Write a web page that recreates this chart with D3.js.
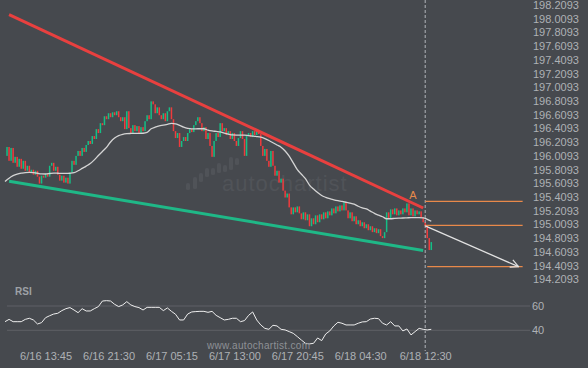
<!DOCTYPE html>
<html lang="en">
<head>
<meta charset="UTF-8">
<title>Falling wedge</title>
<script src="https://cdn.jsdelivr.net/npm/d3@7"></script>
<style>
  body { margin: 0; background: #46494e; }
  svg { display: block; }
  text { font-family: "Liberation Sans", Arial, sans-serif; }
</style>
</head>
<body>
<svg width="588" height="368"></svg>
<script>
// 15 minute candles, first one 6/16 09:00
const open0 = 196.009
const closes = [
  196.139,195.937,196.125,195.908,195.995,195.850,195.966,195.821,195.937,195.792,
  195.865,195.764,195.807,195.735,195.792,195.706,195.605,195.720,195.691,195.749,
  195.706,195.865,195.908,195.792,195.850,195.735,195.648,195.720,195.619,195.691,
  195.605,195.764,195.937,195.879,196.009,196.081,196.009,196.125,196.067,196.168,
  196.226,196.183,196.298,196.255,196.399,196.342,196.486,196.457,196.587,196.544,
  196.631,196.573,196.645,196.602,196.660,196.573,196.515,196.573,196.399,196.660,
  196.414,196.342,196.457,196.370,196.443,196.342,196.428,196.370,196.515,196.602,
  196.544,196.804,196.761,196.631,196.717,196.602,196.544,196.631,196.515,196.660,
  196.717,196.544,196.370,196.269,196.342,196.139,196.226,196.284,196.226,196.342,
  196.399,196.356,196.457,196.515,196.573,196.486,196.370,196.428,196.255,196.342,
  196.154,195.995,196.226,196.342,196.284,196.486,196.370,196.414,196.313,196.370,
  196.255,196.342,196.226,196.154,196.269,196.370,196.255,196.009,196.298,196.342,
  196.284,196.370,196.313,196.385,196.327,196.154,196.009,196.110,195.937,195.850,
  196.081,195.865,195.720,195.792,195.619,195.677,195.503,195.402,195.460,195.258,
  195.157,195.258,195.186,195.272,195.171,195.084,195.186,195.070,195.157,194.983,
  195.099,195.012,195.142,195.041,195.157,195.084,195.186,195.099,195.200,195.142,
  195.243,195.171,195.272,195.200,195.287,195.214,195.330,195.214,195.099,195.186,
  195.056,195.128,195.012,195.070,194.983,195.041,194.954,195.012,194.925,194.983,
  194.897,194.954,194.882,194.940,194.839,194.810,194.897,195.186,195.099,195.229,
  195.157,195.243,195.142,195.214,195.157,195.243,195.186,195.316,195.142,195.243,
  195.128,195.214,195.157,195.200,195.113,195.041,194.983,194.810,194.636,194.752
]

// moving average and RSI, one value every 2 candles from 6/16 08:45
const maEvery2 = [
  195.634,195.684,195.720,195.742,195.756,195.766,195.768,195.764,195.756,195.746,
  195.745,195.752,195.759,195.756,195.753,195.753,195.756,195.764,195.792,195.826,
  195.860,195.897,195.951,196.014,196.074,196.132,196.212,196.269,196.305,196.324,
  196.333,196.336,196.337,196.337,196.339,196.352,196.404,196.428,196.447,196.457,
  196.469,196.482,196.477,196.454,196.428,196.411,196.404,196.404,196.405,196.405,
  196.385,196.373,196.366,196.359,196.342,196.327,196.314,196.313,196.313,196.311,
  196.304,196.298,196.291,196.281,196.261,196.233,196.201,196.168,196.135,196.081,
  196.005,195.908,195.807,195.742,195.677,195.583,195.525,195.475,195.431,195.405,
  195.384,195.369,195.356,195.345,195.333,195.320,195.304,195.275,195.251,195.235,
  195.204,195.171,195.145,195.121,195.092,195.092,195.099,195.102,195.103,195.106,
  195.109,195.110,195.109,195.105,195.084,195.056
]
const rsiEvery2 = [
  47.1,49,47.1,47.1,47.1,49,49.9,48.5,45.2,46.3,
  50.4,52,53.4,54,56.2,57.8,58.7,56.7,54.5,57.8,
  55.9,55.9,57.8,59.5,64.1,64.4,64.1,61.4,59.5,60.9,
  63.6,60.9,59.5,58.7,56.7,58.9,58.9,58.9,58.9,56.2,
  58.4,55.6,53.2,48.5,48.5,53.4,55.1,55.4,55.6,55.6,
  54.8,55.6,52.3,50.4,48.5,49,49.9,49.9,47.1,48,
  52.3,55.1,48.5,44.4,41.6,40.8,44.1,43.6,40.8,40.3,
  38.9,37.5,34.8,32,29.3,28.8,29.3,33.7,31.5,37,
  39.5,43.6,46.6,45.8,44.4,44.4,44.4,45.8,46.9,47.1,
  49.3,49.9,49.6,45.8,44.4,47.1,43.6,43.6,39.5,41.1,
  36.2,38.9,41.6,40.8,40.3,40.8
]

const resistance = [["2020-06-16 09:15", 198.069], ["2020-06-18 12:15", 195.249]]
const support = [["2020-06-16 09:15", 195.639], ["2020-06-18 12:15", 194.628]]
const forecast = [["2020-06-18 12:30", 194.987], ["2020-06-19 00:00", 194.393]]
const levels = [
  ["2020-06-18 12:30", 195.347],
  ["2020-06-18 12:30", 194.997],
  ["2020-06-18 12:45", 194.393]
]
const levelsEnd = "2020-06-19 00:30"
const pointA = ["2020-06-18 11:00", 195.38]
const nowTime = "2020-06-18 12:30"

const priceTicks = [198.2093,198.0093,197.8093,197.6093,197.4093,197.2093,197.0093,
  196.8093,196.6093,196.4093,196.2093,196.0093,195.8093,195.6093,195.4093,195.2093,
  195.0093,194.8093,194.6093,194.4093,194.2093]
const timeTicks = ["2020-06-16 13:45","2020-06-16 21:30","2020-06-17 05:15","2020-06-17 13:00",
  "2020-06-17 20:45","2020-06-18 04:30","2020-06-18 12:30"]
const rsiTicks = [60, 40]

const parse = d3.timeParse("%Y-%m-%d %H:%M")
const start = parse("2020-06-16 08:45")
const at = i => new Date(start.getTime() + i * 15 * 60000)

const x = d3.scaleTime().domain([at(0), at(207)]).range([5, 425.2])
const y = d3.scaleLinear().domain([194.2093, 198.2093]).range([279.3, 5])
const ry = d3.scaleLinear().domain([40, 60]).range([330.3, 306])

const green = "#14bf86", red = "#ef3b3d", orange = "#e8894a"

const svg = d3.select("svg")
svg.append("rect").attr("width", 588).attr("height", 368).attr("fill", "#46494e")

// watermark
const wm = svg.append("g").attr("fill", "#505358")
const bars = [[188, 183, 7], [195, 177, 12], [201, 173, 9], [207, 168, 9], [213, 168, 7],
  [219, 163, 10], [225, 165, 7], [231, 157, 13], [237, 158, 7]]
wm.selectAll("rect").data(bars).join("rect")
  .attr("x", d => d[0] - 2).attr("y", d => d[1]).attr("width", 4).attr("height", d => d[2])
  .attr("rx", 1.5)
wm.append("text").attr("x", 222).attr("y", 191).attr("font-size", 22)
  .attr("letter-spacing", 1).text("autochartist")

// candles
const candles = closes.map((c, j) => ({ t: at(j + 1), o: j ? closes[j - 1] : open0, c }))
svg.append("g").selectAll("rect").data(candles).join("rect")
  .attr("x", d => x(d.t) - 0.75)
  .attr("width", 1.5)
  .attr("y", d => y(Math.max(d.o, d.c)))
  .attr("height", d => Math.max(1, Math.abs(y(d.o) - y(d.c))))
  .attr("fill", d => d.c >= d.o ? green : red)

// moving average
const ma = maEvery2.map((v, k) => ({ t: at(2 * k), v }))
svg.append("path").datum(ma)
  .attr("fill", "none").attr("stroke", "#d4d4d4").attr("stroke-width", 1.3)
  .attr("d", d3.line().x(d => x(d.t)).y(d => y(d.v)).curve(d3.curveMonotoneX))

const seg = d3.line().x(d => x(parse(d[0]))).y(d => y(d[1]))

svg.append("path").datum(resistance).attr("d", seg)
  .attr("stroke", "#e8403f").attr("stroke-width", 3).attr("fill", "none")
svg.append("path").datum(support).attr("d", seg)
  .attr("stroke", "#1fb887").attr("stroke-width", 3).attr("fill", "none")

// vertical marker at the last pattern candle
svg.append("line")
  .attr("x1", x(parse(nowTime))).attr("x2", x(parse(nowTime)))
  .attr("y1", 0).attr("y2", 351)
  .attr("stroke", "#b3b6ba").attr("stroke-dasharray", "3,2")

// target levels
svg.append("g").selectAll("line").data(levels).join("line")
  .attr("x1", d => x(parse(d[0]))).attr("x2", x(parse(levelsEnd)))
  .attr("y1", d => y(d[1])).attr("y2", d => y(d[1]))
  .attr("stroke", orange).attr("stroke-width", 1.2)

// forecast arrow
svg.append("defs").append("marker")
  .attr("id", "head").attr("markerUnits", "userSpaceOnUse")
  .attr("viewBox", "-9 -5 10 10").attr("markerWidth", 10).attr("markerHeight", 10)
  .attr("orient", "auto")
  .append("path").attr("d", "M-8,-4L0,0L-8,4")
  .attr("fill", "none").attr("stroke", "#e2e2e2").attr("stroke-width", 1.2)
svg.append("path").datum(forecast).attr("d", seg)
  .attr("stroke", "#e2e2e2").attr("stroke-width", 1.3).attr("fill", "none")
  .attr("marker-end", "url(#head)")

svg.append("text")
  .attr("x", x(parse(pointA[0]))).attr("y", y(pointA[1]))
  .attr("text-anchor", "middle").attr("font-size", 11).attr("fill", orange)
  .text("A")

// price axis
const yAxis = svg.append("g").attr("transform", "translate(533,0)")
  .call(d3.axisRight(y).tickValues(priceTicks).tickFormat(d3.format(".4f"))
    .tickSize(0).tickPadding(0))
yAxis.select(".domain").remove()
yAxis.selectAll("text").attr("fill", "#aeb1b5").attr("font-size", 11)
  .attr("font-family", "Liberation Sans, Arial, sans-serif")

// RSI panel
svg.append("text").attr("x", 15).attr("y", 294.5).attr("font-size", 10)
  .attr("font-weight", "bold").attr("fill", "#9ea1a6").text("RSI")
svg.append("g").selectAll("line").data(rsiTicks).join("line")
  .attr("x1", 7).attr("x2", 530)
  .attr("y1", d => ry(d)).attr("y2", d => ry(d))
  .attr("stroke", "#5e6166")
const rAxis = svg.append("g").attr("transform", "translate(532,0)")
  .call(d3.axisRight(ry).tickValues(rsiTicks).tickSize(0).tickPadding(0))
rAxis.select(".domain").remove()
rAxis.selectAll("text").attr("fill", "#aeb1b5").attr("font-size", 11)
  .attr("font-family", "Liberation Sans, Arial, sans-serif")

const rsi = rsiEvery2.map((v, k) => ({ t: at(2 * k), v }))
svg.append("path").datum(rsi)
  .attr("fill", "none").attr("stroke", "#eeeeee").attr("stroke-width", 1)
  .attr("d", d3.line().x(d => x(d.t)).y(d => ry(d.v)))

svg.append("text").attr("x", 207).attr("y", 348.5).attr("font-size", 10)
  .attr("letter-spacing", 0.3).attr("fill", "#8e9196").text("www.autochartist.com")

// time axis
const xAxis = svg.append("g").attr("transform", "translate(0,349)")
  .call(d3.axisBottom(x).tickValues(timeTicks.map(parse))
    .tickFormat(d3.timeFormat("%-m/%-d %H:%M")).tickSize(0).tickPadding(3))
xAxis.select(".domain").remove()
xAxis.selectAll("text").attr("fill", "#aeb1b5").attr("font-size", 11)
  .attr("font-family", "Liberation Sans, Arial, sans-serif")
</script>
</body>
</html>
